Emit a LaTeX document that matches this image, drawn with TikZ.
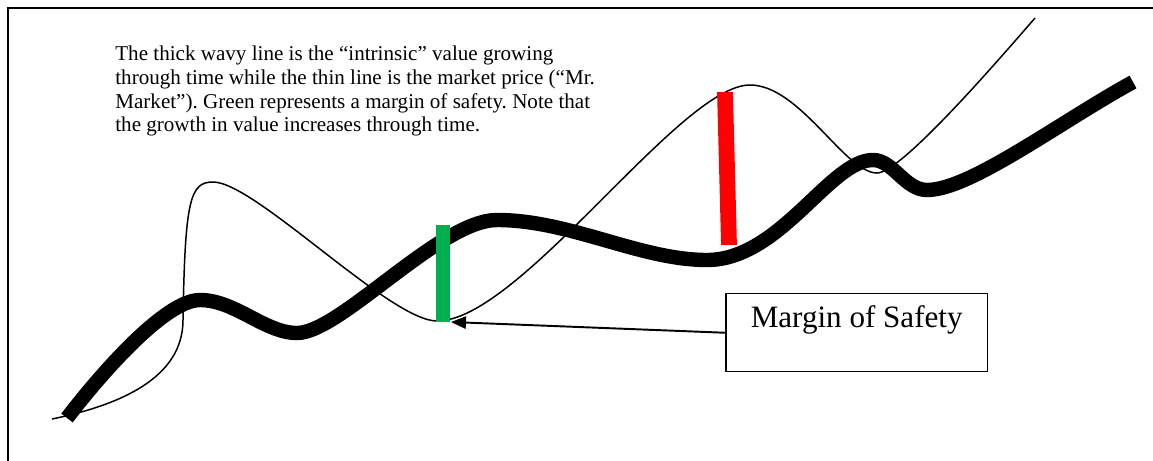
\documentclass[tikz,border=0pt]{standalone}
\usepackage{fontspec}
\setmainfont{Liberation Serif}
\usepackage{tikz}
\usetikzlibrary{arrows.meta}
\definecolor{safetygreen}{HTML}{00B050}
\definecolor{dangerred}{HTML}{FF0000}

\begin{document}
\frenchspacing
\begin{tikzpicture}[x=0.02cm,y=-0.02cm]
  \useasboundingbox (0,0) rectangle (1153,460);
  \clip (0,0) rectangle (1153,460);
  \draw[line width=1.1pt] (8,8) rectangle (1180,490);
  \node[anchor=north west,inner sep=0pt,align=left,font=\fontsize{12}{13.45}\selectfont] (note) at (115,46)
    {The thick wavy line is the ``intrinsic'' value growing\\
     through time while the thin line is the market price (``Mr.\\
     Market''). Green represents a margin of safety. Note that\\
     the growth in value increases through time.};
  \draw[line width=0.85pt] (52,419) .. controls (120,405) and (183,378) .. (183,320)
    .. controls (185,200) and (190,182) .. (213,182)
    .. controls (255,182) and (390,321) .. (437,321)
    .. controls (520,321) and (680,85) .. (750,85)
    .. controls (800,85) and (845,173) .. (877,173)
    .. controls (900,173) and (990,70) .. (1035,18);
  \draw[line width=8.2pt] (67,418) .. controls (100,375) and (165,300) .. (200,300)
    .. controls (235,300) and (265,333) .. (297,333)
    .. controls (340,333) and (440,220) .. (497,220)
    .. controls (570,220) and (640,260) .. (707,260)
    .. controls (780,260) and (830,160) .. (873,160)
    .. controls (893,160) and (905,190) .. (927,190)
    .. controls (970,190) and (1060,122) .. (1133,82);
  \draw[safetygreen,line width=8pt] (443,225) -- (443,322);
  \draw[dangerred,line width=9pt] (725,92) -- (729,245);
  \coordinate (greenlow) at (451,322);
  \node[draw,line width=0.85pt,anchor=north west,inner xsep=0pt,inner ysep=0pt,minimum width=5.24cm,
    text height=0.68cm,text depth=0.88cm,font=\fontsize{17.7}{20}\selectfont] (mos) at (725,293) {Margin of Safety};
  \draw[line width=1.1pt,-{Triangle[length=8.5pt,width=7pt]}] (mos.west) -- (greenlow);
\end{tikzpicture}
\end{document}
